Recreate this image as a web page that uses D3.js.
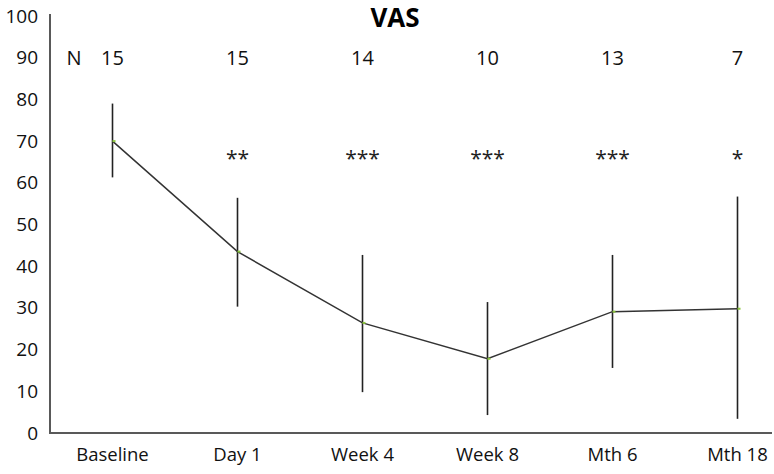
<!DOCTYPE html>
<html><head><meta charset="utf-8">
<script src="https://cdn.jsdelivr.net/npm/d3@7"></script>
<style>body{margin:0;background:#fff}svg{display:block}</style>
</head><body>
<svg id="c" width="774" height="474"></svg>
<script>
const categories = ["Baseline","Day 1","Week 4","Week 8","Mth 6","Mth 18"];
const means = [70, 43.5, 26.4, 17.8, 29.1, 29.8];
const upper = [79, 56.4, 42.7, 31.4, 42.7, 56.7];
const lower = [61.3, 30.3, 9.8, 4.3, 15.6, 3.4];
const nValues = ["15","15","14","10","13","7"];
const stars = ["","**","***","***","***","*"];
const yTicks = [0,10,20,30,40,50,60,70,80,90,100];

const font = "'Open Sans', sans-serif";
const svg = d3.select("#c");
const x = d3.scaleBand().domain(categories).range([50, 800]);
const cx = d => x(d) + x.bandwidth()/2;
const y = d3.scaleLinear().domain([0,100]).range([433, 16]);

// y axis
const ya = svg.append("g").attr("transform","translate(50,0)")
  .call(d3.axisLeft(y).tickValues(yTicks).tickSize(0).tickPadding(12));
ya.select(".domain").attr("stroke","#595959").attr("stroke-width",2).attr("d","M0,"+y(0)+"V"+(y(100)-2));
ya.selectAll("text").attr("font-family",font).attr("font-size",19).attr("fill","#111");

// x axis
const xa = svg.append("g").attr("transform","translate(0,"+y(0)+")")
  .call(d3.axisBottom(x).tickSize(0).tickPadding(15));
xa.select(".domain").attr("stroke","#595959").attr("stroke-width",2).attr("d","M49,0H772");
xa.selectAll("text").attr("font-family",font).attr("font-size",18.5).attr("fill","#111");

// error bars
svg.append("g").selectAll("line").data(categories).join("line")
  .attr("x1",d=>cx(d)).attr("x2",d=>cx(d))
  .attr("y1",(d,i)=>y(upper[i])).attr("y2",(d,i)=>y(lower[i]))
  .attr("stroke","#222").attr("stroke-width",1.6);

// mean line
svg.append("path").datum(categories)
  .attr("d", d3.line().x(d=>cx(d)).y((d,i)=>y(means[i])))
  .attr("fill","none").attr("stroke","#333").attr("stroke-width",1.5);

// markers
svg.append("g").selectAll("rect").data(categories).join("rect")
  .attr("x",d=>cx(d)).attr("y",(d,i)=>y(means[i])-1)
  .attr("width",3).attr("height",2).attr("fill","#8cc63f");

// title
svg.append("text").attr("x",395).attr("y",27).attr("text-anchor","middle")
  .attr("font-family",font).attr("font-weight","bold").attr("font-size",26).attr("fill","#000").text("VAS");

// N row
svg.append("text").attr("x",74).attr("y",y(90)+7).attr("text-anchor","middle")
  .attr("font-family",font).attr("font-size",20).attr("fill","#111").text("N");
svg.append("g").selectAll("text").data(categories).join("text")
  .attr("x",d=>cx(d)).attr("y",y(90)+7).attr("text-anchor","middle")
  .attr("font-family",font).attr("font-size",20).attr("fill","#111")
  .text((d,i)=>nValues[i]);

// significance stars
svg.append("g").selectAll("text").data(categories).join("text")
  .attr("x",d=>cx(d)).attr("y",166).attr("text-anchor","middle")
  .attr("font-family",font).attr("font-size",21).attr("fill","#222")
  .text((d,i)=>stars[i]);
</script>
</body></html>
